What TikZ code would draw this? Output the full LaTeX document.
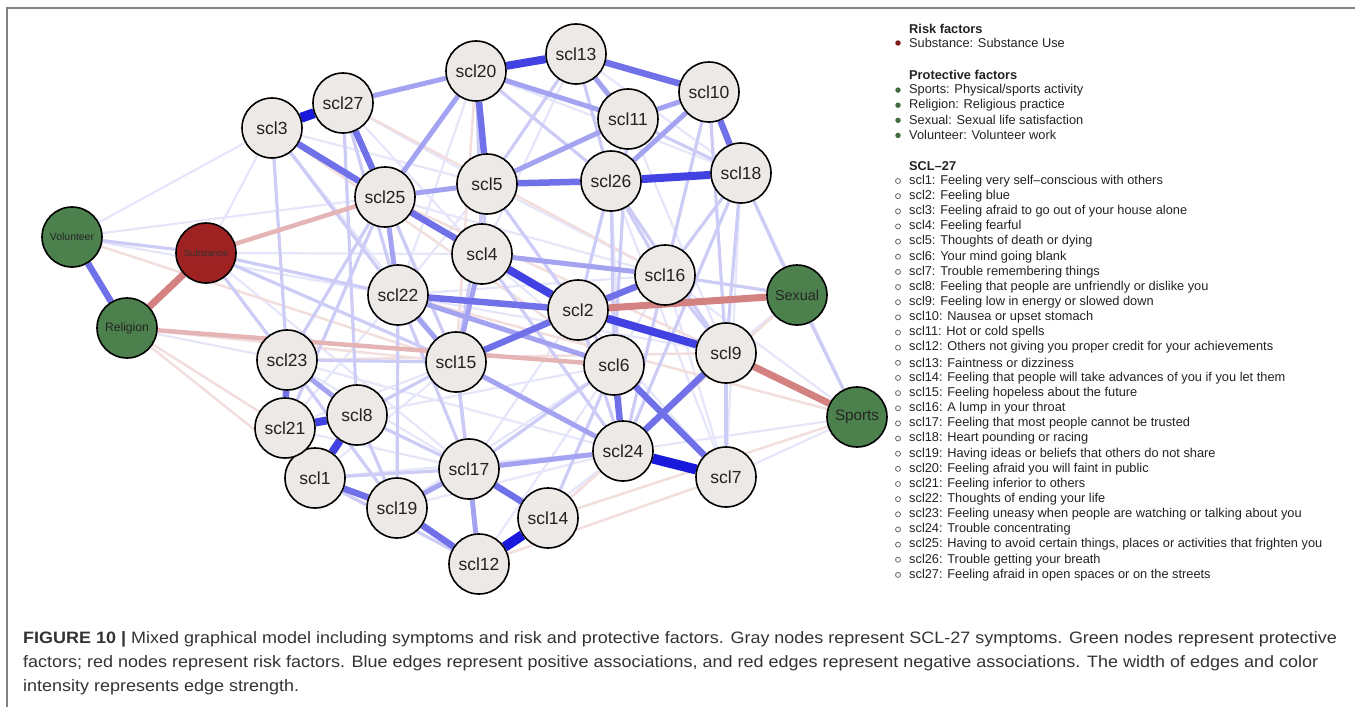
\documentclass[tikz,border=0pt]{standalone}
\usepackage{fontspec}
\usepackage{graphicx}
\setmainfont{Liberation Sans}
\newfontfamily\capfont[FakeStretch=1.09]{Liberation Sans}
\usetikzlibrary{backgrounds}

\definecolor{posC}{RGB}{25,25,220}
\definecolor{negC}{RGB}{190,70,70}
\definecolor{symFill}{RGB}{236,233,230}
\definecolor{protFill}{RGB}{76,128,76}
\definecolor{riskFill}{RGB}{158,34,34}
\definecolor{frameC}{RGB}{130,130,130}
\definecolor{txtC}{RGB}{34,34,34}

\newcommand{\fitlabel}[1]{\resizebox{44pt}{!}{#1}}

\tikzset{
  sym node/.style={circle,draw,line width=1.6pt,fill=symFill,minimum size=60pt,inner sep=0pt,
    text=txtC,font=\fontsize{17.5}{20}\selectfont},
  prot node/.style={sym node,fill=protFill,text=black!85},
  risk node/.style={sym node,fill=riskFill,text=black!80},
  pos5/.style={draw=posC,line width=10pt},
  pos4/.style={draw=posC!82!white,line width=8pt},
  pos3/.style={draw=posC!62!white,line width=6.5pt},
  pos2/.style={draw=posC!40!white,line width=5pt},
  pos1/.style={draw=posC!22!white,line width=3.2pt},
  pos0/.style={draw=posC!11!white,line width=2.2pt},
  neg3/.style={draw=negC!68!white,line width=7pt},
  neg2/.style={draw=negC!40!white,line width=4.5pt},
  neg1/.style={draw=negC!18!white,line width=2.5pt},
  legend text/.style={anchor=west,inner sep=0pt,text=txtC,font=\fontsize{12.8}{15}\selectfont},
  legend head/.style={legend text,font=\fontsize{12.8}{15}\selectfont\bfseries},
  dot/.style={circle,inner sep=0pt,minimum size=5.5pt},
  cap line/.style={anchor=base west,inner sep=0pt,text=black!80,font=\capfont\fontsize{16.5}{20}\selectfont}
}

\begin{document}
\begin{tikzpicture}[x=1pt,y=-1pt]
\useasboundingbox (0,0) rectangle (1355,707);
\draw[frameC,line width=1.5pt] (7,707) -- (7,8) -- (1355,8);

% symptom nodes
\foreach \n/\x/\y in {1/315/478,2/578/310,3/272/128,4/482/254,5/487/184,6/614/365,7/726/477,
  8/357/415,9/726/353,10/709/92,11/628/119,12/479/564,13/576/54,14/548/518,15/456/362,
  16/665/275,17/469/469,18/741/173,19/397/508,20/476/71,21/285/428,22/398/295,23/287/360,
  24/623/451,25/385/197,26/611/181,27/343/103}
  \node[sym node] (scl\n) at (\x,\y) {scl\n};

% factor nodes
\node[prot node] (Volunteer) at (72,237) {\fitlabel{Volunteer}};
\node[prot node] (Religion) at (127,328) {\fitlabel{Religion}};
\node[prot node] (Sexual) at (797,295) {\fitlabel{Sexual}};
\node[prot node] (Sports) at (857,417) {\fitlabel{Sports}};
\node[risk node] (Substance) at (206,253) {\fitlabel{Substance}};

\begin{scope}[on background layer]
% very weak edges
\foreach \a/\b in {scl3/scl15,scl27/scl4,scl25/scl16,scl22/scl9,scl23/scl24,scl21/scl17,
  scl19/scl24,scl12/scl24,scl14/scl24,scl17/scl2,scl1/scl24,scl8/scl6,scl13/scl4,scl11/scl2,
  scl10/scl24,scl18/scl7,scl7/Sports,Sports/scl24,scl20/scl22,scl5/scl22,Volunteer/scl25,
  Volunteer/scl3,Volunteer/scl22,Religion/scl23,Substance/scl3,scl26/scl24,scl4/scl6,
  scl16/scl6,scl5/scl16,scl3/scl4,scl27/scl5,scl21/scl15,scl1/scl15,scl12/scl6,scl19/scl6,
  scl13/scl18,scl20/scl18,scl11/scl9,scl26/scl7,scl16/scl7,scl2/scl7,Sexual/scl9,
  scl18/Sports,scl16/Sports,scl21/scl22,scl23/scl17,Substance/scl4,Substance/scl17,
  scl27/scl15,scl3/scl5,scl22/scl16,scl15/scl16,scl17/scl6,scl14/scl9}
  \draw[pos0] (\a) -- (\b);
\foreach \a/\b in {Religion/scl1,scl14/Sports,Sexual/scl24,Religion/scl15,Volunteer/scl15,
  scl25/scl9,scl22/Sports,scl3/scl6,scl12/scl7,scl20/scl15,Religion/scl21,Sexual/scl14,
  scl27/scl16,scl23/scl9}
  \draw[neg1] (\a) -- (\b);
% weak edges
\foreach \a/\b in {scl18/scl9,scl9/scl7,scl3/scl23,scl27/scl8,scl26/scl16,scl18/scl16,
  scl10/scl9,Sexual/Sports,Volunteer/Substance,scl5/scl4,scl5/scl2,scl4/scl24,scl16/scl24,
  scl26/scl2,scl11/scl18,scl13/scl26,scl20/scl4,scl25/scl15,scl25/scl23,scl25/scl21,
  scl23/scl15,scl23/scl19,scl8/scl15,scl8/scl17,scl8/scl19,scl1/scl17,scl1/scl12,
  scl22/scl17,scl22/scl19,scl15/scl17,scl15/scl12,scl6/scl17,scl6/scl14,scl2/scl24,
  scl2/scl6,scl16/scl9,scl18/scl24,scl26/scl9,scl11/scl6,scl26/scl6,scl5/scl15,
  scl27/scl22,scl3/scl22,scl13/scl5,scl20/scl26,scl10/scl16,Substance/scl22,
  Substance/scl15,Substance/scl23,scl18/Sexual,scl16/Sexual}
  \draw[pos1] (\a) -- (\b);
\foreach \a/\b in {Religion/scl6,Substance/scl25}
  \draw[neg2] (\a) -- (\b);
% medium edges
\foreach \a/\b in {scl22/scl6,scl22/scl15,scl20/scl11,scl11/scl10,scl27/scl20,scl25/scl5,
  scl4/scl16,scl5/scl11,scl13/scl11,scl4/scl15,scl15/scl24,scl17/scl24,scl19/scl17,
  scl12/scl17,scl23/scl8,scl25/scl22,scl20/scl25,scl10/scl26}
  \draw[pos2] (\a) -- (\b);
\foreach \a/\b in {scl13/scl10,scl10/scl18,scl20/scl5,scl5/scl26,scl27/scl25,scl25/scl4,
  scl6/scl24,scl6/scl7,scl9/scl24,scl2/scl16,scl22/scl2,scl15/scl2,scl23/scl21,
  scl1/scl19,scl19/scl12,scl17/scl14,Volunteer/Religion,scl3/scl25}
  \draw[pos3] (\a) -- (\b);
\foreach \a/\b in {Substance/Religion,scl2/Sexual,scl9/Sports}
  \draw[neg3] (\a) -- (\b);
% strong edges
\foreach \a/\b in {scl4/scl2,scl21/scl8,scl8/scl1,scl26/scl18,scl20/scl13,scl2/scl9}
  \draw[pos4] (\a) -- (\b);
\foreach \a/\b in {scl3/scl27,scl24/scl7,scl12/scl14}
  \draw[pos5] (\a) -- (\b);
\end{scope}

% legend
\node[legend head] (riskhead) at (909,29) {Risk factors};
\node[dot,fill=riskFill!80!black] (riskdot) at (898,43) {};
\node[legend text] (risk1) at (909,43) {Substance: Substance Use};
\node[legend head] (prothead) at (909,75) {Protective factors};
\foreach \i/\t in {1/{Sports: Physical/sports activity},2/{Religion: Religious practice},
  3/{Sexual: Sexual life satisfaction},4/{Volunteer: Volunteer work}}{
  \node[dot,fill=protFill!85!black] (protdot\i) at (898,{75+15.1*\i}) {};
  \node[legend text] (prot\i) at (909,{75+15.1*\i}) {\t};
}
\node[legend head] (sclhead) at (909,166) {SCL–27};
\foreach \i/\t in {1/{Feeling very self–conscious with others},2/{Feeling blue},
  3/{Feeling afraid to go out of your house alone},4/{Feeling fearful},
  5/{Thoughts of death or dying},6/{Your mind going blank},7/{Trouble remembering things},
  8/{Feeling that people are unfriendly or dislike you},9/{Feeling low in energy or slowed down},
  10/{Nausea or upset stomach},11/{Hot or cold spells},
  12/{Others not giving you proper credit for your achievements},13/{Faintness or dizziness},
  14/{Feeling that people will take advances of you if you let them},
  15/{Feeling hopeless about the future},16/{A lump in your throat},
  17/{Feeling that most people cannot be trusted},18/{Heart pounding or racing},
  19/{Having ideas or beliefs that others do not share},20/{Feeling afraid you will faint in public},
  21/{Feeling inferior to others},22/{Thoughts of ending your life},
  23/{Feeling uneasy when people are watching or talking about you},24/{Trouble concentrating},
  25/{Having to avoid certain things, places or activities that frighten you},
  26/{Trouble getting your breath},27/{Feeling afraid in open spaces or on the streets}}{
  \node[dot,draw=black!60,line width=0.8pt,minimum size=5pt] (scldot\i) at (898,{181+15.15*(\i-1)}) {};
  \node[legend text] (scltext\i) at (909,{181+15.15*(\i-1)}) {scl\i: \t};
}

% caption
\node[cap line] (cap1) at (23,643) {\textbf{FIGURE 10 |} Mixed graphical model including symptoms and risk and protective factors. Gray nodes represent SCL-27 symptoms. Green nodes represent protective};
\node[cap line] (cap2) at (23,667) {factors; red nodes represent risk factors. Blue edges represent positive associations, and red edges represent negative associations. The width of edges and color};
\node[cap line] (cap3) at (23,691) {intensity represents edge strength.};
\end{tikzpicture}
\end{document}
